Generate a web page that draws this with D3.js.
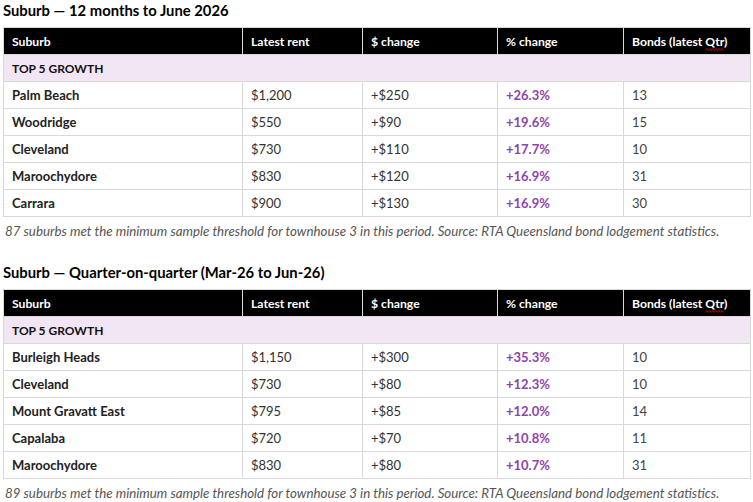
<!DOCTYPE html>
<html>
<head>
<meta charset="utf-8">
<script src="https://cdn.jsdelivr.net/npm/d3@7"></script>
<style>
  html, body { margin: 0; padding: 0; background: #fff; }
  svg { display: block; }
  text { font-family: Lato, "Noto Sans", sans-serif; }
</style>
</head>
<body>
<svg id="chart" width="753" height="502"></svg>
<script>
// column headers, shared by both tables
const columns = ["Suburb", "Latest rent", "$ change", "% change", "Bonds (latest Qtr)"];
const groupLabel = "TOP 5 GROWTH";

// 12 months to June 2026
const annualSuburbs = ["Palm Beach", "Woodridge", "Cleveland", "Maroochydore", "Carrara"];
const annualRent = [1200, 550, 730, 830, 900];
const annualChange = [250, 90, 110, 120, 130];
const annualPct = [26.3, 19.6, 17.7, 16.9, 16.9];
const annualBonds = [13, 15, 10, 31, 30];

// quarter-on-quarter
const quarterSuburbs = ["Burleigh Heads", "Cleveland", "Mount Gravatt East", "Capalaba", "Maroochydore"];
const quarterRent = [1150, 730, 795, 720, 830];
const quarterChange = [300, 80, 85, 70, 80];
const quarterPct = [35.3, 12.3, 12.0, 10.8, 10.7];
const quarterBonds = [10, 10, 14, 11, 31];

const tables = [
  {
    title: "Suburb \u2014 12 months to June 2026",
    note: "87 suburbs met the minimum sample threshold for townhouse 3 in this period. Source: RTA Queensland bond lodgement statistics.",
    suburbs: annualSuburbs, rent: annualRent, change: annualChange, pct: annualPct, bonds: annualBonds,
    top: 27
  },
  {
    title: "Suburb \u2014 Quarter-on-quarter (Mar-26 to Jun-26)",
    note: "89 suburbs met the minimum sample threshold for townhouse 3 in this period. Source: RTA Queensland bond lodgement statistics.",
    suburbs: quarterSuburbs, rent: quarterRent, change: quarterChange, pct: quarterPct, bonds: quarterBonds,
    top: 289
  }
];

const colEdges = [3, 242, 362, 497, 623, 751];
const rowH = 27;
const padX = 9;

const x = d3.scaleOrdinal().domain(columns).range(colEdges.slice(0, -1));

const money = d3.format(",");
const fmtRent = v => "$" + money(v);
const fmtChange = v => "+$" + money(v);
const fmtPct = v => d3.format("+.1f")(v) + "%";

const svg = d3.select("#chart");
const border = "#d9d9d9";

tables.forEach(t => {
  const rowKeys = ["header", "group"].concat(t.suburbs);
  const y = d3.scaleBand().domain(rowKeys).range([t.top, t.top + rowKeys.length * rowH]);
  const mid = k => y(k) + y.bandwidth() / 2 + 1;
  const g = svg.append("g");

  g.append("text")
    .attr("x", 3).attr("y", t.top - 11)
    .attr("font-size", 14.8).attr("font-weight", 700).attr("fill", "#000")
    .text(t.title);

  // header
  g.append("rect")
    .attr("x", colEdges[0]).attr("y", y("header"))
    .attr("width", colEdges[5] - colEdges[0]).attr("height", y.bandwidth())
    .attr("fill", "#000");
  const head = g.selectAll(".head").data(columns).join("text")
    .attr("x", d => x(d) + padX).attr("y", mid("header"))
    .attr("dy", "0.35em")
    .attr("font-size", 12.2).attr("font-weight", 700).attr("fill", "#fff")
    .text(d => d);

  // spell-check squiggle under "Qtr"
  const last = head.filter((d, i) => i === columns.length - 1).node();
  const qi = columns[4].indexOf("Qtr");
  const q0 = last.getStartPositionOfChar(qi).x;
  const q1 = last.getEndPositionOfChar(qi + 2).x;
  const wy = mid("header") + 8;
  const pts = d3.range(q0, q1 + 0.1, 1.5).map((px, i) => [px, wy + (i % 2 ? -1 : 1)]);
  g.append("path").attr("d", d3.line()(pts))
    .attr("fill", "none").attr("stroke", "#e0000b").attr("stroke-width", 0.8);

  // group row
  g.append("rect")
    .attr("x", colEdges[0]).attr("y", y("group"))
    .attr("width", colEdges[5] - colEdges[0]).attr("height", y.bandwidth())
    .attr("fill", "#f3e6f4");
  g.append("text")
    .attr("x", colEdges[0] + padX).attr("y", mid("group"))
    .attr("dy", "0.35em")
    .attr("font-size", 12).attr("font-weight", 700).attr("fill", "#111")
    .text(groupLabel);

  // body cells
  const rows = t.suburbs.map((s, i) => [
    { col: columns[0], text: s, weight: 700, fill: "#222" },
    { col: columns[1], text: fmtRent(t.rent[i]), weight: 400, fill: "#333" },
    { col: columns[2], text: fmtChange(t.change[i]), weight: 400, fill: "#333" },
    { col: columns[3], text: fmtPct(t.pct[i]), weight: 700, fill: "#8e44ad" },
    { col: columns[4], text: t.bonds[i], weight: 400, fill: "#444" }
  ].map(c => Object.assign(c, { row: s })));

  g.selectAll(".cell").data(rows.flat()).join("text")
    .attr("x", d => x(d.col) + padX)
    .attr("y", d => mid(d.row))
    .attr("dy", "0.35em")
    .attr("font-size", 13).attr("font-weight", d => d.weight).attr("fill", d => d.fill)
    .text(d => d.text);

  // grid lines
  const bottom = y.range()[1];
  g.selectAll(".hline").data(rowKeys.slice(1).concat(["end"])).join("line")
    .attr("x1", colEdges[0]).attr("x2", colEdges[5])
    .attr("y1", d => (d === "end" ? bottom : y(d)) + 0.5)
    .attr("y2", d => (d === "end" ? bottom : y(d)) + 0.5)
    .attr("stroke", border);
  // vertical dividers skip the group row
  const segs = [[y("header"), y("group")], [y(t.suburbs[0]), bottom]];
  segs.forEach(([a, b]) => {
    g.selectAll(null).data(colEdges.slice(1, -1)).join("line")
      .attr("x1", d => d + 0.5).attr("x2", d => d + 0.5)
      .attr("y1", a).attr("y2", b)
      .attr("stroke", border);
  });
  g.append("rect")
    .attr("x", colEdges[0] + 0.5).attr("y", y("header") + 0.5)
    .attr("width", colEdges[5] - colEdges[0] - 1).attr("height", bottom - y("header"))
    .attr("fill", "none").attr("stroke", border);

  g.append("text")
    .attr("x", 5).attr("y", bottom + 19.5)
    .attr("font-size", 13.3).attr("font-style", "italic").attr("fill", "#555")
    .text(t.note);
});
</script>
</body>
</html>
